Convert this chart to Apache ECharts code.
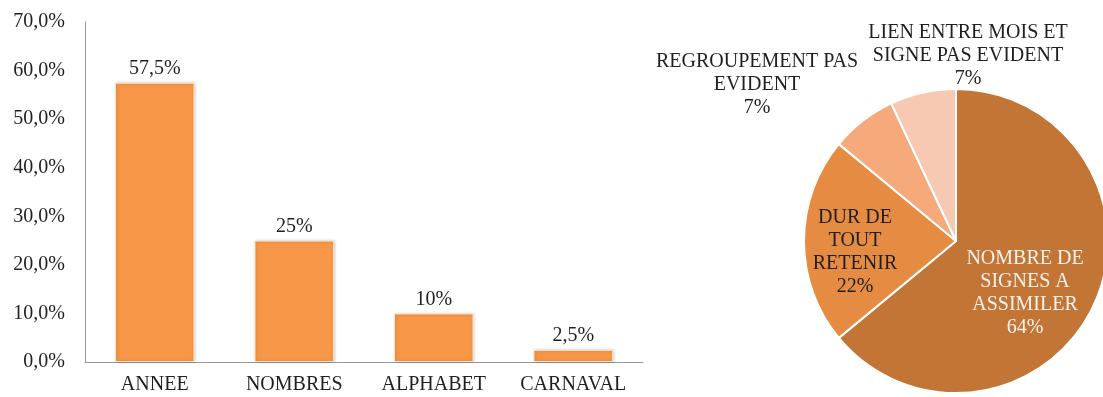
<!DOCTYPE html>
<html>
<head>
<meta charset="utf-8">
<script src="https://cdn.jsdelivr.net/npm/echarts@6/dist/echarts.min.js"></script>
<style>
  html, body { margin: 0; padding: 0; background: #fff; }
  #chart { width: 1103px; height: 397px; }
</style>
</head>
<body>
<div id="chart"></div>
<script>
// Bar chart: difficulty categories and their shares (%)
const barCategories = ['ANNEE', 'NOMBRES', 'ALPHABET', 'CARNAVAL'];
const barValues = [57.5, 25, 10, 2.5];
const barLabels = ['57,5%', '25%', '10%', '2,5%'];

// Y-axis scale (percent)
const yMax = 70;
const yStep = 10;

// Pie chart: reasons given
const pieNames = [
  'NOMBRE DE\nSIGNES A\nASSIMILER',
  'DUR DE\nTOUT\nRETENIR',
  'REGROUPEMENT PAS\nEVIDENT',
  'LIEN ENTRE MOIS ET\nSIGNE PAS EVIDENT'
];
const pieValues = [64, 22, 7, 7];
const pieColors = ['#C27535', '#E68B42', '#F6AA7B', '#F8C9B2'];
const pieLabelColors = ['#f7f2ec', '#1f1f1f', '#1f1f1f', '#1f1f1f'];

// Label anchor points for the pie texts
const pieLabelPos = [[1025, 293], [855, 252], [757, 85], [968, 56]];

const FONT = '"Liberation Serif", "Times New Roman", serif';
const TEXT = '#1f1f1f';

const chart = echarts.init(document.getElementById('chart'), null, { renderer: 'canvas' });

chart.setOption({
  animation: false,
  textStyle: { fontFamily: FONT },
  grid: { left: 85, right: 460, top: 22, bottom: 35, containLabel: false },
  xAxis: {
    type: 'category',
    data: barCategories,
    axisLine: { show: true, lineStyle: { color: '#9a9a9a', width: 1 } },
    axisTick: { show: false },
    axisLabel: { color: TEXT, fontFamily: FONT, fontSize: 20, margin: 13 }
  },
  yAxis: {
    type: 'value',
    min: 0,
    max: yMax,
    interval: yStep,
    axisLine: { show: true, lineStyle: { color: '#9a9a9a', width: 1 } },
    axisTick: { show: false },
    splitLine: { show: false },
    axisLabel: {
      color: TEXT, fontFamily: FONT, fontSize: 20, margin: 20,
      formatter: v => v.toFixed(1).replace('.', ',') + '%'
    }
  },
  series: [
    {
      type: 'bar',
      data: barValues,
      barWidth: '57%',
      itemStyle: {
        color: '#F79646',
        borderColor: '#fbe3cf',
        borderWidth: 1,
        shadowBlur: 3,
        shadowColor: 'rgba(0,0,0,0.18)',
        shadowOffsetX: 1
      },
      label: {
        show: true,
        position: 'top',
        distance: 4,
        color: TEXT,
        fontFamily: FONT,
        fontSize: 20,
        formatter: p => barLabels[p.dataIndex]
      }
    },
    {
      type: 'pie',
      center: [956, 241],
      radius: [0, 152],
      startAngle: 90,
      clockwise: true,
      avoidLabelOverlap: false,
      itemStyle: { borderColor: '#ffffff', borderWidth: 2 },
      label: {
        show: true,
        position: 'inside',
        fontFamily: FONT,
        fontSize: 20,
        lineHeight: 23,
        align: 'center',
        formatter: p => p.name + '\n' + p.value + '%'
      },
      labelLine: { show: false },
      labelLayout: p => ({
        x: pieLabelPos[p.dataIndex][0],
        y: pieLabelPos[p.dataIndex][1],
        align: 'center',
        verticalAlign: 'middle'
      }),
      data: pieNames.map((n, i) => ({
        name: n,
        value: pieValues[i],
        itemStyle: { color: pieColors[i] },
        label: { color: pieLabelColors[i] }
      }))
    }
  ]
});
</script>
</body>
</html>
